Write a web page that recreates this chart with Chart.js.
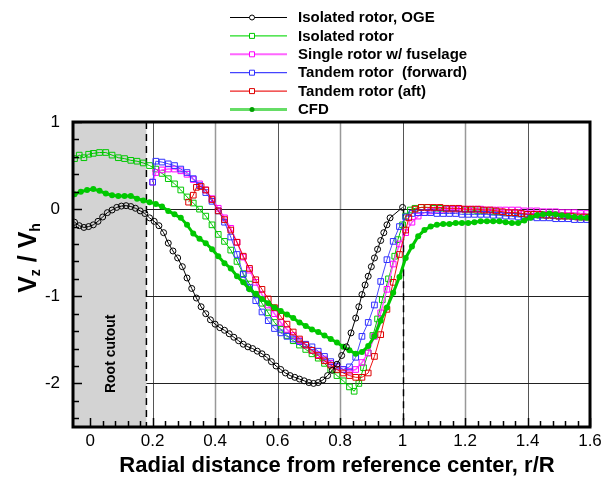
<!DOCTYPE html>
<html>
<head>
<meta charset="utf-8">
<script src="https://cdn.jsdelivr.net/npm/chart.js@4.4.0/dist/chart.umd.min.js"></script>
<style>
  html, body { margin: 0; padding: 0; background: #fff; }
</style>
</head>
<body>
<canvas id="wake-chart" width="610" height="479"></canvas>
<script>
// Isolated rotor, out of ground effect
const ogeR = [-0.05, -0.035, -0.02, -0.005, 0.01, 0.025, 0.04, 0.055, 0.07, 0.085, 0.1, 0.115, 0.13, 0.145, 0.16, 0.175,
  0.19, 0.205, 0.22, 0.235, 0.25, 0.265, 0.28, 0.295, 0.31, 0.325, 0.34, 0.355, 0.37, 0.385, 0.4, 0.415, 0.43, 0.445,
  0.46, 0.475, 0.49, 0.505, 0.52, 0.535, 0.55, 0.565, 0.58, 0.595, 0.61, 0.625, 0.64, 0.655, 0.67, 0.685, 0.7, 0.715,
  0.73, 0.745, 0.76, 0.775, 0.79, 0.805, 0.82, 0.835, 0.85, 0.86, 0.87, 0.88, 0.89, 0.9, 0.91, 0.92, 0.93, 0.94, 0.95,
  0.96, 1.0];
const ogeVz = [-0.15, -0.19, -0.21, -0.20, -0.18, -0.14, -0.09, -0.04, -0.01, 0.02, 0.035, 0.04, 0.03, 0.01, -0.02, -0.05,
  -0.10, -0.14, -0.19, -0.27, -0.39, -0.48, -0.56, -0.66, -0.79, -0.91, -1.02, -1.12, -1.20, -1.27, -1.32, -1.36, -1.39, -1.43,
  -1.47, -1.51, -1.55, -1.58, -1.60, -1.63, -1.66, -1.70, -1.75, -1.80, -1.84, -1.88, -1.91, -1.93, -1.95, -1.97, -1.99, -2.00,
  -1.99, -1.96, -1.91, -1.85, -1.78, -1.68, -1.58, -1.42, -1.25, -1.12, -0.98, -0.87, -0.77, -0.66, -0.56, -0.46, -0.36, -0.27, -0.18,
  -0.10, 0.02];

// Isolated rotor
const isoR = [-0.05, -0.035, -0.02, -0.005, 0.01, 0.03, 0.05, 0.07, 0.09, 0.11, 0.13, 0.15, 0.17, 0.19, 0.21, 0.23, 0.25,
  0.27, 0.29, 0.31, 0.33, 0.35, 0.37, 0.39, 0.41, 0.43, 0.45, 0.47, 0.49, 0.51, 0.53, 0.55, 0.57, 0.59, 0.61, 0.63, 0.65,
  0.67, 0.69, 0.71, 0.73, 0.75, 0.77, 0.79, 0.81, 0.83, 0.845, 0.86, 0.875, 0.89, 0.905, 0.92, 0.935, 0.955, 0.975, 0.985,
  1.0, 1.01, 1.025, 1.04, 1.06, 1.08, 1.1, 1.12, 1.14, 1.16, 1.18, 1.2, 1.22, 1.24, 1.26, 1.28, 1.3, 1.32, 1.34, 1.36, 1.38,
  1.4, 1.42, 1.44, 1.46, 1.48, 1.5, 1.52, 1.54, 1.56, 1.58, 1.6];
const isoVz = [0.58, 0.62, 0.59, 0.63, 0.64, 0.65, 0.65, 0.62, 0.59, 0.58, 0.56, 0.55, 0.53, 0.50, 0.46, 0.41, 0.35,
  0.29, 0.22, 0.14, 0.07, 0.00, -0.08, -0.18, -0.29, -0.37, -0.47, -0.60, -0.74, -0.86, -0.98, -1.08, -1.19, -1.30, -1.38, -1.45, -1.51,
  -1.56, -1.61, -1.66, -1.71, -1.77, -1.84, -1.91, -1.97, -2.04, -2.09, -2.00, -1.82, -1.65, -1.45, -1.26, -1.04, -0.80, -0.54, -0.35,
  -0.18, -0.08, -0.01, 0.01, 0.02, 0.02, 0.01, 0.01, 0.00, 0.00, 0.00, -0.01, -0.01, -0.02, -0.02, -0.03, -0.03, -0.04, -0.04, -0.05, -0.05,
  -0.06, -0.06, -0.07, -0.07, -0.07, -0.08, -0.08, -0.08, -0.08, -0.09, -0.09];

// Single rotor with fuselage
const fusR = [0.2, 0.21, 0.23, 0.25, 0.27, 0.29, 0.31, 0.33, 0.35, 0.37, 0.39, 0.41, 0.43, 0.45, 0.47, 0.49, 0.51, 0.53,
  0.55, 0.57, 0.59, 0.61, 0.63, 0.65, 0.67, 0.69, 0.71, 0.73, 0.75, 0.77, 0.79, 0.81, 0.83, 0.85, 0.87, 0.89, 0.91, 0.93,
  0.95, 0.97, 0.99, 1.01, 1.03, 1.05, 1.07, 1.09, 1.11, 1.13, 1.15, 1.17, 1.19, 1.21, 1.23, 1.25, 1.27, 1.29, 1.31, 1.33,
  1.35, 1.37, 1.39, 1.41, 1.43, 1.45, 1.47, 1.49, 1.51, 1.53, 1.55, 1.57, 1.59];
const fusVz = [0.31, 0.42, 0.45, 0.46, 0.46, 0.44, 0.40, 0.34, 0.29, 0.22, 0.12, 0.01, -0.10, -0.22, -0.38, -0.55, -0.70, -0.84,
  -0.98, -1.10, -1.20, -1.30, -1.38, -1.45, -1.51, -1.56, -1.62, -1.67, -1.72, -1.77, -1.81, -1.84, -1.86, -1.84, -1.76, -1.65, -1.46, -1.19,
  -0.92, -0.63, -0.40, -0.27, -0.15, -0.08, -0.04, -0.02, -0.01, -0.01, 0.00, 0.00, 0.00, 0.00, 0.00, 0.00, -0.01, -0.01, -0.01, -0.01,
  -0.01, -0.01, -0.02, -0.02, -0.02, -0.03, -0.03, -0.03, -0.04, -0.04, -0.04, -0.05, -0.05];

// Tandem rotor, forward
const fwdR = [0.2, 0.21, 0.23, 0.25, 0.27, 0.29, 0.31, 0.33, 0.35, 0.37, 0.39, 0.41, 0.43, 0.45, 0.47, 0.49, 0.51, 0.53,
  0.55, 0.57, 0.59, 0.61, 0.63, 0.65, 0.67, 0.69, 0.71, 0.73, 0.75, 0.77, 0.79, 0.81, 0.83, 0.85, 0.87, 0.89, 0.91, 0.93,
  0.95, 0.97, 0.99, 1.01, 1.03, 1.05, 1.07, 1.09, 1.11, 1.13, 1.15, 1.17, 1.19, 1.21, 1.23, 1.25, 1.27, 1.29, 1.31, 1.33,
  1.35, 1.37, 1.39, 1.41, 1.43, 1.45, 1.47, 1.49, 1.51, 1.53, 1.55, 1.57, 1.59];
const fwdVz = [0.31, 0.55, 0.54, 0.52, 0.50, 0.46, 0.42, 0.35, 0.27, 0.19, 0.09, -0.02, -0.15, -0.32, -0.52, -0.75, -0.90, -1.05,
  -1.18, -1.28, -1.37, -1.42, -1.46, -1.49, -1.52, -1.55, -1.58, -1.63, -1.69, -1.75, -1.80, -1.84, -1.81, -1.70, -1.46, -1.30, -1.10, -0.83,
  -0.58, -0.37, -0.20, -0.09, -0.05, -0.04, -0.04, -0.04, -0.05, -0.05, -0.05, -0.05, -0.06, -0.06, -0.06, -0.06, -0.06, -0.07, -0.07, -0.08,
  -0.08, -0.09, -0.09, -0.09, -0.10, -0.10, -0.10, -0.11, -0.11, -0.11, -0.12, -0.12, -0.12];

// Tandem rotor, aft
const aftR = [0.315, 0.33, 0.34, 0.355, 0.37, 0.39, 0.41, 0.43, 0.45, 0.47, 0.49, 0.51, 0.53, 0.55, 0.57, 0.59, 0.61,
  0.63, 0.65, 0.67, 0.69, 0.71, 0.73, 0.75, 0.77, 0.79, 0.81, 0.83, 0.85, 0.87, 0.89, 0.91, 0.93, 0.95, 0.97, 0.99, 1.01,
  1.02, 1.04, 1.06, 1.08, 1.1, 1.12, 1.14, 1.16, 1.18, 1.2, 1.22, 1.24, 1.26, 1.28, 1.3, 1.32, 1.34, 1.36, 1.38, 1.4, 1.42,
  1.44, 1.46, 1.48, 1.5, 1.52, 1.54, 1.56, 1.58, 1.6];
const aftVz = [0.08, 0.16, 0.25, 0.26, 0.22, 0.11, -0.02, -0.12, -0.24, -0.38, -0.54, -0.68, -0.81, -0.92, -1.03, -1.13, -1.23,
  -1.32, -1.41, -1.49, -1.56, -1.62, -1.68, -1.74, -1.79, -1.84, -1.88, -1.91, -1.93, -1.93, -1.88, -1.69, -1.44, -1.15, -0.84, -0.52, -0.24,
  -0.10, 0.00, 0.02, 0.02, 0.02, 0.02, 0.01, 0.01, 0.01, 0.00, 0.00, 0.00, -0.01, -0.01, -0.02, -0.03, -0.04, -0.04, -0.05, -0.06, -0.06,
  -0.06, -0.07, -0.07, -0.08, -0.08, -0.08, -0.09, -0.09, -0.09];

// CFD
const cfdR = [-0.05, -0.03, -0.01, 0.01, 0.03, 0.05, 0.07, 0.09, 0.11, 0.13, 0.15, 0.17, 0.19, 0.21, 0.23, 0.25, 0.27,
  0.29, 0.31, 0.33, 0.35, 0.37, 0.39, 0.41, 0.43, 0.45, 0.47, 0.49, 0.51, 0.53, 0.55, 0.57, 0.59, 0.61, 0.63, 0.65, 0.67,
  0.69, 0.71, 0.73, 0.75, 0.77, 0.79, 0.81, 0.83, 0.85, 0.87, 0.89, 0.91, 0.93, 0.95, 0.97, 0.99, 1.01, 1.03, 1.05, 1.07,
  1.09, 1.11, 1.13, 1.15, 1.17, 1.19, 1.21, 1.23, 1.25, 1.27, 1.29, 1.31, 1.33, 1.35, 1.37, 1.39, 1.41, 1.43, 1.45, 1.47,
  1.49, 1.51, 1.53, 1.55, 1.57, 1.59];
const cfdVz = [0.17, 0.20, 0.22, 0.23, 0.21, 0.18, 0.16, 0.15, 0.15, 0.15, 0.12, 0.10, 0.08, 0.06, 0.03, -0.02, -0.06,
  -0.10, -0.18, -0.28, -0.34, -0.39, -0.46, -0.54, -0.62, -0.68, -0.77, -0.84, -0.92, -0.97, -1.03, -1.08, -1.13, -1.17, -1.21, -1.25, -1.30,
  -1.34, -1.38, -1.41, -1.45, -1.49, -1.53, -1.58, -1.62, -1.66, -1.64, -1.57, -1.46, -1.28, -1.13, -0.96, -0.78, -0.56, -0.43, -0.31, -0.24,
  -0.20, -0.18, -0.17, -0.17, -0.16, -0.16, -0.16, -0.15, -0.14, -0.14, -0.14, -0.14, -0.15, -0.16, -0.16, -0.13, -0.10, -0.07, -0.06, -0.05,
  -0.06, -0.07, -0.08, -0.09, -0.10, -0.10];

// Axes
const xTicks = [0, 0.2, 0.4, 0.6, 0.8, 1, 1.2, 1.4, 1.6];
const yTicks = [1, 0, -1, -2];
const rootCutout = 0.18;

const FONT = "'Liberation Sans', Arial, Helvetica, sans-serif";

function pairs(r, v) {
    return r.map((x, i) => ({ x: x, y: v[i] }));
}

function series(label, r, v, color, opts) {
    return Object.assign({
        label: label,
        data: pairs(r, v),
        borderColor: color,
        backgroundColor: 'rgba(0,0,0,0)',
        pointBorderColor: color,
        pointBackgroundColor: 'rgba(0,0,0,0)',
        pointBorderWidth: 1,
        pointStyle: 'rect',
        pointRadius: 4,
        borderWidth: 1,
        tension: 0
    }, opts);
}

const datasets = [
    series('Isolated rotor, OGE', ogeR, ogeVz, '#000000', { pointStyle: 'circle', pointRadius: 3, order: 0, legendLine: '#000000' }),
    series('Isolated rotor', isoR, isoVz, '#00c800', { order: 5, legendLine: '#22dd22' }),
    series('Single rotor w/ fuselage', fusR, fusVz, '#ff00ff', { borderColor: '#ff55ff', borderWidth: 1.5, order: 4, legendLine: '#ff66ff' }),
    series('Tandem rotor  (forward)', fwdR, fwdVz, '#3030ff', { borderColor: '#4848ff', order: 3, legendLine: '#4444ff' }),
    series('Tandem rotor (aft)', aftR, aftVz, '#dd0000', { borderColor: '#ee1111', order: 2, legendLine: '#ee2222' }),
    series('CFD', cfdR, cfdVz, '#00c800', {
        pointStyle: 'circle', pointRadius: 3, pointBorderWidth: 0, pointBackgroundColor: '#00c800',
        borderWidth: 3, order: 1, legendLine: '#66dd66'
    })
];

// Shaded root cutout, grid lines and dashed boundaries
const backdrop = {
    id: 'backdrop',
    beforeDatasetsDraw(chart) {
        const { ctx, chartArea: a, scales: { x, y } } = chart;
        const xc = x.getPixelForValue(rootCutout);
        ctx.save();
        ctx.fillStyle = '#d3d3d3';
        ctx.fillRect(a.left, a.top, xc - a.left, a.bottom - a.top);

        [0.2, 0.4, 0.6, 0.8, 1.0, 1.2, 1.4].forEach((v, i) => {
            const px = Math.round(x.getPixelForValue(v)) + 0.5;
            ctx.strokeStyle = i % 2 === 0 ? '#555' : '#999';
            ctx.lineWidth = i % 2 === 0 ? 1 : 1.5;
            ctx.beginPath();
            ctx.moveTo(px, a.top);
            ctx.lineTo(px, a.bottom);
            ctx.stroke();
        });

        ctx.strokeStyle = '#222';
        ctx.lineWidth = 1;
        [0, -1, -2].forEach(v => {
            const py = Math.round(y.getPixelForValue(v)) + 0.5;
            ctx.beginPath();
            ctx.moveTo(xc, py);
            ctx.lineTo(a.right, py);
            ctx.stroke();
        });

        ctx.strokeStyle = '#000';
        ctx.lineWidth = 1.5;
        ctx.setLineDash([7, 5]);
        ctx.beginPath();
        ctx.moveTo(xc, a.top);
        ctx.lineTo(xc, a.bottom);
        const x1 = Math.round(x.getPixelForValue(1)) + 0.5;
        ctx.moveTo(x1, y.getPixelForValue(0));
        ctx.lineTo(x1, a.bottom);
        ctx.stroke();
        ctx.setLineDash([]);

        // label inside the cutout band
        ctx.translate((a.left + xc) / 2 + 1, y.getPixelForValue(-1.66));
        ctx.rotate(-Math.PI / 2);
        ctx.fillStyle = '#000';
        ctx.font = 'bold 14px ' + FONT;
        ctx.textAlign = 'center';
        ctx.textBaseline = 'middle';
        ctx.fillText('Root cutout', 0, 0);
        ctx.restore();
    }
};

// Frame, inward tick marks, axis titles and legend
const frame = {
    id: 'frame',
    afterDatasetsDraw(chart) {
        const { ctx, chartArea: a, scales: { x, y } } = chart;
        ctx.save();
        ctx.strokeStyle = '#000';
        ctx.lineWidth = 1.5;
        ctx.beginPath();
        for (let v = -2.4; v <= 1.001; v += 0.2) {
            const major = Math.abs(v - Math.round(v)) < 1e-6;
            const py = Math.round(y.getPixelForValue(v)) + 0.5;
            ctx.moveTo(a.left, py);
            ctx.lineTo(a.left + (major ? 9 : 6), py);
        }
        for (let v = 0; v <= 1.6001; v += 0.04) {
            const major = Math.abs(v / 0.2 - Math.round(v / 0.2)) < 1e-6;
            const px = Math.round(x.getPixelForValue(v)) + 0.5;
            ctx.moveTo(px, a.bottom);
            ctx.lineTo(px, a.bottom - (major ? 9 : 6));
        }
        ctx.stroke();

        ctx.lineWidth = 3;
        ctx.strokeRect(a.left, a.top, a.right - a.left, a.bottom - a.top);
        ctx.restore();
    },
    afterDraw(chart) {
        const ctx = chart.ctx;
        ctx.save();
        ctx.fillStyle = '#000';

        // x title
        ctx.font = 'bold 22px ' + FONT;
        ctx.textAlign = 'center';
        ctx.textBaseline = 'middle';
        ctx.fillText('Radial distance from reference center, r/R', 337, 466);

        // y title with subscripts
        const parts = [
            { t: 'V', sub: false }, { t: 'z', sub: true }, { t: ' / ', sub: false },
            { t: 'V', sub: false }, { t: 'h', sub: true }
        ];
        const big = 'bold 25px ' + FONT, small = 'bold 14px ' + FONT;
        let total = 0;
        parts.forEach(p => { ctx.font = p.sub ? small : big; p.w = ctx.measureText(p.t).width; total += p.w; });
        ctx.translate(36, 258);
        ctx.rotate(-Math.PI / 2);
        ctx.textAlign = 'left';
        ctx.textBaseline = 'alphabetic';
        let cx = -total / 2;
        parts.forEach(p => {
            ctx.font = p.sub ? small : big;
            ctx.fillText(p.t, cx, p.sub ? 4 : 0);
            cx += p.w;
        });
        ctx.restore();

        // legend
        ctx.save();
        chart.data.datasets.forEach((ds, i) => {
            const yy = 17.5 + i * 18.4;
            ctx.strokeStyle = ds.legendLine;
            ctx.lineWidth = ds.label === 'CFD' ? 3 : (ds.label.startsWith('Single') ? 2 : 1.2);
            ctx.beginPath();
            ctx.moveTo(230, yy);
            ctx.lineTo(287, yy);
            ctx.stroke();
            ctx.lineWidth = 1;
            ctx.strokeStyle = ds.pointBorderColor;
            ctx.fillStyle = ds.pointBackgroundColor;
            ctx.beginPath();
            if (ds.pointStyle === 'circle') {
                ctx.arc(252, yy, 2.5, 0, Math.PI * 2);
                ctx.fillStyle = ds.label === 'CFD' ? '#00a000' : '#fff';
                ctx.fill();
                if (ds.label !== 'CFD') ctx.stroke();
            } else {
                ctx.fillStyle = '#fff';
                ctx.rect(249.5, yy - 2.5, 5, 5);
                ctx.fill();
                ctx.stroke();
            }
            ctx.fillStyle = '#000';
            ctx.font = 'bold 15px ' + FONT;
            ctx.textAlign = 'left';
            ctx.textBaseline = 'middle';
            ctx.fillText(ds.label, 298, yy + 0.5);
        });
        ctx.restore();
    }
};

new Chart(document.getElementById('wake-chart').getContext('2d'), {
    type: 'line',
    data: { datasets: datasets },
    options: {
        responsive: false,
        animation: false,
        events: [],
        layout: { padding: { top: 122, right: 20, left: 0, bottom: 0 } },
        plugins: {
            legend: { display: false },
            tooltip: { enabled: false }
        },
        scales: {
            x: {
                type: 'linear',
                min: -0.055,
                max: 1.6,
                afterFit: s => { s.height = 52; },
                afterBuildTicks: s => { s.ticks = xTicks.map(v => ({ value: v })); },
                grid: { display: false, drawTicks: false },
                border: { display: false },
                ticks: {
                    padding: 4,
                    color: '#000',
                    font: { family: FONT, size: 17 },
                    callback: v => String(+v.toFixed(1))
                }
            },
            y: {
                type: 'linear',
                min: -2.5,
                max: 1,
                afterFit: s => { s.width = 73; },
                afterBuildTicks: s => { s.ticks = yTicks.map(v => ({ value: v })); },
                grid: { display: false, drawTicks: false },
                border: { display: false },
                ticks: {
                    padding: 13,
                    color: '#000',
                    font: { family: FONT, size: 17 },
                    callback: v => String(v)
                }
            }
        }
    },
    plugins: [backdrop, frame]
});
</script>
</body>
</html>
